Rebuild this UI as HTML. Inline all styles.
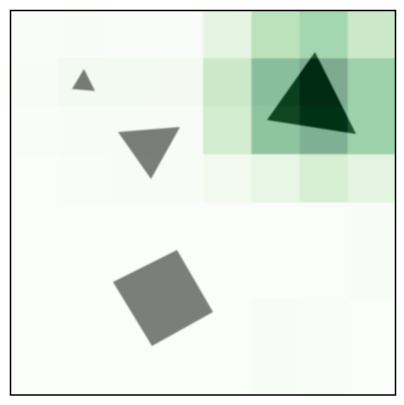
<!DOCTYPE html>
<html><head><meta charset="utf-8"><style>
html,body{margin:0;padding:0;background:#fff;width:404px;height:405px;overflow:hidden}
</style></head><body>
<svg id="chart" width="404" height="405" viewBox="0 0 404 405" xmlns="http://www.w3.org/2000/svg">
<defs><filter id="bl" x="-10%" y="-10%" width="120%" height="120%"><feGaussianBlur stdDeviation="0.9"/></filter>
<clipPath id="clip"><rect x="10" y="10" width="386" height="385"/></clipPath></defs>
<rect x="10" y="10" width="386" height="385" fill="#fff"/>
<g id="shapes" filter="url(#bl)" clip-path="url(#clip)"></g>
<g clip-path="url(#clip)"><g id="cells" opacity="0.5" filter="url(#bl)"></g></g>
<rect x="10.5" y="10.5" width="385" height="384.5" fill="none" stroke="#000" stroke-width="1.5"/>
</svg>
<script>
const rowLabels=[0,1,2,3,4,5,6,7];
const colLabels=[0,1,2,3,4,5,6,7];
const row0=[0.02,0.04,0.02,0.02,0.22,0.48,0.6,0.4];
const row1=[0.03,0.1,0.1,0.09,0.4,0.8,0.95,0.65];
const row2=[0.02,0.04,0.04,0.04,0.35,0.75,0.9,0.65];
const row3=[0.0,0.01,0.03,0.04,0.12,0.2,0.33,0.24];
const row4=[0,0,0,0,0,0,0,0.03];
const row5=[0,0,0,0,0,0,0,0.03];
const row6=[0,0,0,0,0,0.04,0.02,0];
const row7=[0,0,0,0,0,0.04,0.02,0];
const grid=[row0,row1,row2,row3,row4,row5,row6,row7];
const squarePts=[[113,282],[177,250],[213,312],[152,346]];
const triSmall=[[84,69],[72,89],[95,91]];
const triMid=[[118,132],[180,127],[151,179]];
const triBig=[[315,52],[267,120],[356,134]];

const X0=10,Y0=10,W=386,H=385;
const cw=W/colLabels.length, ch=H/rowLabels.length;
const xPos=c=>X0+c*cw, yPos=r=>Y0+r*ch;
const stops=[[247,252,245],[229,245,224],[199,233,192],[161,217,155],[116,196,118],[65,171,93],[35,139,69],[0,109,44],[0,68,27]];
function greens(v){v=Math.max(0,Math.min(1,v));const t=v*8,i=Math.min(7,Math.floor(t)),f=t-i;
 const a=stops[i],b=stops[i+1];return 'rgb('+a.map((x,k)=>Math.round(x+(b[k]-x)*f)).join(',')+')';}
const NS='http://www.w3.org/2000/svg';
const sg=document.getElementById('shapes');
const shapes=[['square-shape',squarePts],['small-triangle',triSmall],['medium-triangle',triMid],['large-triangle',triBig]];
shapes.forEach(([n,pts])=>{const p=document.createElementNS(NS,'polygon');
 p.setAttribute('points',pts.map(q=>q.join(',')).join(' '));p.setAttribute('fill','#000');
 
 
 sg.appendChild(p);});
const cg=document.getElementById('cells');
grid.forEach((row,r)=>row.forEach((v,c)=>{const e=document.createElementNS(NS,'rect');
 e.setAttribute('x',xPos(c));e.setAttribute('y',yPos(r));e.setAttribute('width',cw+0.6);e.setAttribute('height',ch+0.6);
 e.setAttribute('fill',greens(v));
 
 
 cg.appendChild(e);}));
</script>
</body></html>
